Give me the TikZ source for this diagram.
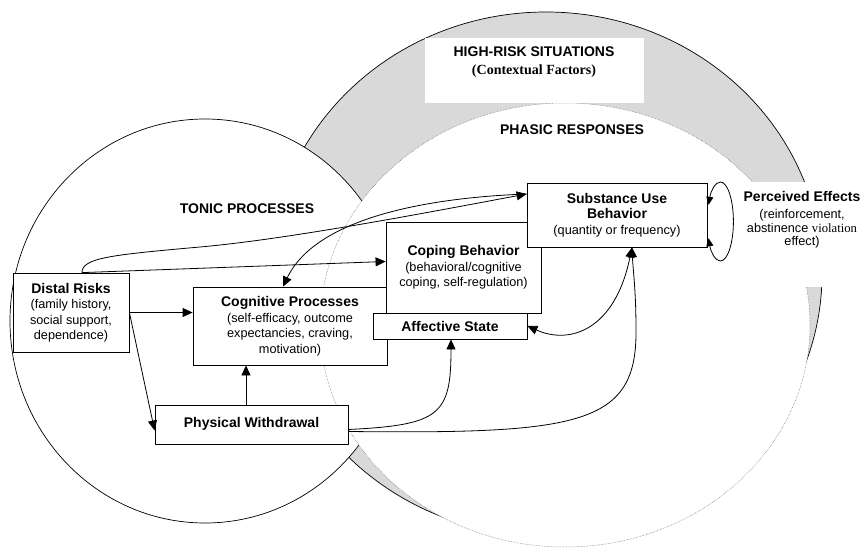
\documentclass[tikz,border=0pt]{standalone}
\usepackage{fontspec}
\setmainfont{Liberation Sans}
\newfontfamily\timesf{Liberation Serif}
\usetikzlibrary{arrows.meta,calc}
\definecolor{hrgray}{RGB}{217,217,217}
\newcommand\ttlf{\fontsize{14}{15.5}\selectfont\bfseries}
\newcommand\bodyf{\fontsize{12.7}{15.5}\selectfont}
\begin{document}
\begin{tikzpicture}[x=1pt,y=-1pt,
  box/.style={draw, fill=white, line width=0.8pt, inner sep=0pt, align=center, font=\bodyf},
  arr/.style={line width=0.8pt, -{Triangle[length=10pt,width=9pt]}},
  biarr/.style={line width=0.8pt, {Triangle[length=10pt,width=9pt]}-{Triangle[length=10pt,width=9pt]}},
  looparr/.style={line width=0.8pt, -{Triangle[length=8pt,width=7pt]}},
  lbl/.style={font=\ttlf, inner sep=0pt}]
\useasboundingbox (0,0) rectangle (867,548);
% background regions
\draw[fill=hrgray, line width=0.7pt] (546,274) ellipse [x radius=276pt, y radius=262pt];
\draw[fill=white, line width=0.7pt] (205,321) ellipse [x radius=195pt, y radius=202pt];
\draw[fill=white, line width=0.5pt, densely dotted, draw=black!60] (565,325) ellipse [x radius=245pt, y radius=222pt];
\fill[white] (425,38) rectangle (644,103);
\fill[white] (740,182) rectangle (867,287);
% labels
\node[lbl] (hrs) at (534,52) {HIGH-RISK SITUATIONS};
\node[font=\timesf\bfseries\fontsize{14}{15}\selectfont, inner sep=0pt] (ctx) at (534,71) {(Contextual Factors)};
\node[lbl] (phasic) at (572,130) {PHASIC RESPONSES};
\node[lbl] (tonic) at (247,209) {TONIC PROCESSES};
% boxes
\node[box, minimum width=194pt, minimum height=78pt] (cp) at (290,326)
  {{\ttlf Cognitive Processes}\\(self-efficacy, outcome\\expectancies, craving,\\motivation)};
\node[box, minimum width=155pt, minimum height=91pt] (cb) at (463.5,267.5)
  {{\ttlf Coping Behavior}\\(behavioral/cognitive\\coping, self-regulation)};
\node[box, minimum width=154pt, minimum height=26pt] (as) at (450,326) {\ttlf Affective State};
\node[box, minimum width=180pt, minimum height=64pt] (su) at (617,215)
  {{\ttlf Substance Use}\\{\ttlf Behavior}\\(quantity or frequency)};
\node[box, minimum width=193pt, minimum height=39pt] (pw) at (251.5,424.5) {\raisebox{4pt}{\ttlf Physical Withdrawal}};
\node[box, minimum width=116pt, minimum height=79pt] (dr) at (71,312.5)
  {{\ttlf Distal Risks}\\(family history,\\social support,\\dependence)};
\node[inner sep=0pt, align=center, font={\fontsize{12.7}{13.5}\selectfont}] (pe) at (802,219.5)
  {{\ttlf Perceived Effects}\\[4pt](reinforcement,\\abstinence {\timesf violation}\\effect)};
% loop
\coordinate (lc) at ($(su.east)+(13,6.5)$);
\coordinate (lr) at ($(lc)+(13,0)$);
\draw[looparr] (lr) arc[start angle=0, end angle=155, x radius=13pt, y radius=39.5pt];
\draw[looparr] (lr) arc[start angle=0, end angle=-155, x radius=13pt, y radius=39.5pt];
% connectors
\coordinate (drtop) at ($(dr.north)+(11,0)$);
\coordinate (suin) at ($(su.west)+(0,-21)$);
\coordinate (subot) at ($(su.south)+(15,0)$);
\draw[arr] (dr.east) -- (cp.west |- dr.east);
\draw[arr] (dr.east) -- ($(pw.west)+(0,6)$);
\draw[arr] (drtop) -- ($(cb.west)+(0,-6)$);
\draw[arr] (drtop) .. controls (82,258) and (110,255) .. (200,247) .. controls (290,239) and (430,212) .. (suin);
\draw[arr] (suin) .. controls (420,198) and (315,220) .. ($(cp.north)+(-7,0)$);
\coordinate (pwtop) at ($(pw.north)+(-5.5,0)$);
\draw[arr] (pwtop) -- (pwtop |- cp.south);
\draw[arr] ($(pw.east)+(0,5)$) .. controls (440,425) and (451,415) .. ($(as.south)+(1,0)$);
\draw[arr] ($(pw.east)+(0,7)$) .. controls (580,434) and (637,425) .. (636,330) .. controls (636,290) and (633,270) .. (subot);
\draw[biarr] (as.east) .. controls (570,345) and (615,330) .. (subot);
\end{tikzpicture}
\end{document}
